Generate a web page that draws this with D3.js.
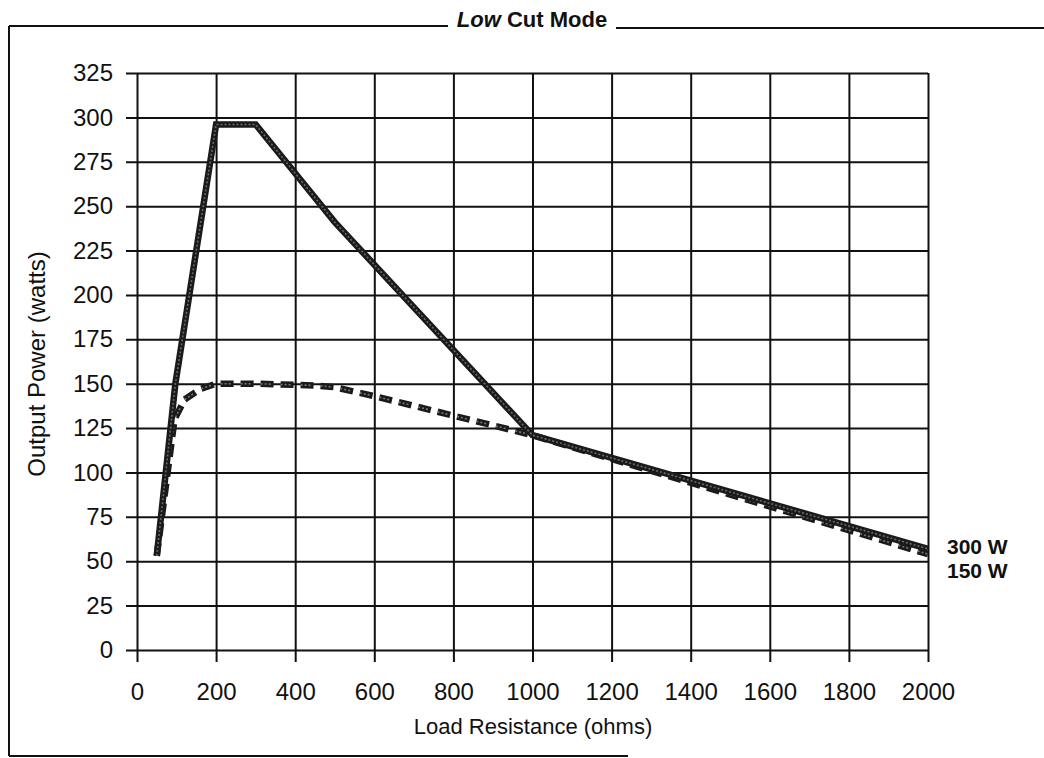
<!DOCTYPE html>
<html>
<head>
<meta charset="utf-8">
<script src="https://cdn.jsdelivr.net/npm/d3@7"></script>
<style>
  html, body { margin: 0; padding: 0; background: #fff; }
  svg { display: block; font-family: "Liberation Sans", Arial, Helvetica, sans-serif; }
</style>
</head>
<body>
<svg id="chart" width="1044" height="758"></svg>
<script>
// Output power vs. load resistance, Low Cut mode
const xTicks = [0, 200, 400, 600, 800, 1000, 1200, 1400, 1600, 1800, 2000];
const yTicks = [0, 25, 50, 75, 100, 125, 150, 175, 200, 225, 250, 275, 300, 325];

// 300 W setting (solid)
const load300 = [50, 97, 200, 300, 500, 1000, 2000];
const watts300 = [53, 150, 296, 296, 241, 121, 57];

// 150 W setting (dashed)
const load150 = [50, 95, 120, 160, 200, 300, 450, 500, 600, 800, 1000, 2000];
const watts150 = [53, 130, 141, 147, 150, 150, 149, 148, 143, 132, 121, 54];

const seriesLabels = ["300 W", "150 W"];

const svg = d3.select("#chart");
const x = d3.scaleLinear().domain([0, 2000]).range([137, 928]);
const y = d3.scaleLinear().domain([0, 325]).range([650, 73]);

// outer frame with title breaking the top rule
const frame = svg.append("g").attr("stroke", "#111").attr("stroke-width", 2).attr("fill", "none");
frame.append("line").attr("x1", 9).attr("x2", 9).attr("y1", 26).attr("y2", 756);
frame.append("line").attr("x1", 9).attr("x2", 448).attr("y1", 26).attr("y2", 26);
frame.append("line").attr("x1", 616).attr("x2", 1044).attr("y1", 28).attr("y2", 28);
frame.append("line").attr("x1", 9).attr("x2", 628).attr("y1", 756).attr("y2", 756);

const title = svg.append("text")
  .attr("x", 532).attr("y", 27)
  .attr("text-anchor", "middle")
  .attr("font-size", 22).attr("font-weight", "bold").attr("fill", "#111");
title.append("tspan").attr("font-style", "italic").text("Low");
title.append("tspan").text(" Cut Mode");

// grid drawn through the axis generators
const gx = svg.append("g")
  .attr("transform", `translate(0,${y(0)})`)
  .call(d3.axisBottom(x).tickValues(xTicks).tickSize(-(y(0) - y(325))).tickSizeOuter(0).tickFormat(d3.format("d")));
gx.select(".domain").remove();
gx.selectAll(".tick line").attr("stroke", "#111").attr("stroke-width", 2)
  .attr("y2", -(y(0) - y(325))).attr("y1", 12);
gx.selectAll(".tick text").attr("y", 33).attr("dy", "0.71em")
  .attr("font-size", 24).attr("fill", "#111").attr("font-family", "Liberation Sans, Arial, sans-serif");

const gy = svg.append("g")
  .attr("transform", `translate(${x(0)},0)`)
  .call(d3.axisLeft(y).tickValues(yTicks).tickSize(-(x(2000) - x(0))).tickSizeOuter(0));
gy.select(".domain").remove();
gy.selectAll(".tick line").attr("stroke", "#111").attr("stroke-width", 2)
  .attr("x1", -11);
gy.selectAll(".tick text").attr("x", -24)
  .attr("font-size", 24).attr("fill", "#111").attr("font-family", "Liberation Sans, Arial, sans-serif");

// axis titles
svg.append("text")
  .attr("x", 533).attr("y", 734)
  .attr("text-anchor", "middle").attr("font-size", 22).attr("fill", "#111")
  .text("Load Resistance (ohms)");
svg.append("text")
  .attr("transform", "translate(45,364) rotate(-90)")
  .attr("text-anchor", "middle").attr("font-size", 24).attr("fill", "#111")
  .text("Output Power (watts)");

const line = d3.line().x(d => x(d[0])).y(d => y(d[1]));
const pts300 = load300.map((d, i) => [d, watts300[i]]);
const pts150 = load150.map((d, i) => [d, watts150[i]]);

// 150 W dashed curve
svg.append("path").attr("d", line(pts150))
  .attr("fill", "none").attr("stroke", "#1a1a1a").attr("stroke-width", 6.5)
  .attr("stroke-dasharray", "13,7").attr("stroke-linejoin", "round");
svg.append("path").attr("d", line(pts150))
  .attr("fill", "none").attr("stroke", "#777").attr("stroke-width", 1.6)
  .attr("stroke-dasharray", "2,2,2,2,2,10");

// 300 W solid curve
svg.append("path").attr("d", line(pts300))
  .attr("fill", "none").attr("stroke", "#1a1a1a").attr("stroke-width", 6.5)
  .attr("stroke-linejoin", "miter");
svg.append("path").attr("d", line(pts300))
  .attr("fill", "none").attr("stroke", "#6a6a6a").attr("stroke-width", 1.6)
  .attr("stroke-dasharray", "2,2");

// end labels
svg.selectAll("text.series")
  .data(seriesLabels)
  .join("text")
  .attr("class", "series")
  .attr("x", 947)
  .attr("y", (d, i) => 554 + i * 24)
  .attr("font-size", 21).attr("font-weight", "bold").attr("fill", "#111")
  .text(d => d);
</script>
</body>
</html>
